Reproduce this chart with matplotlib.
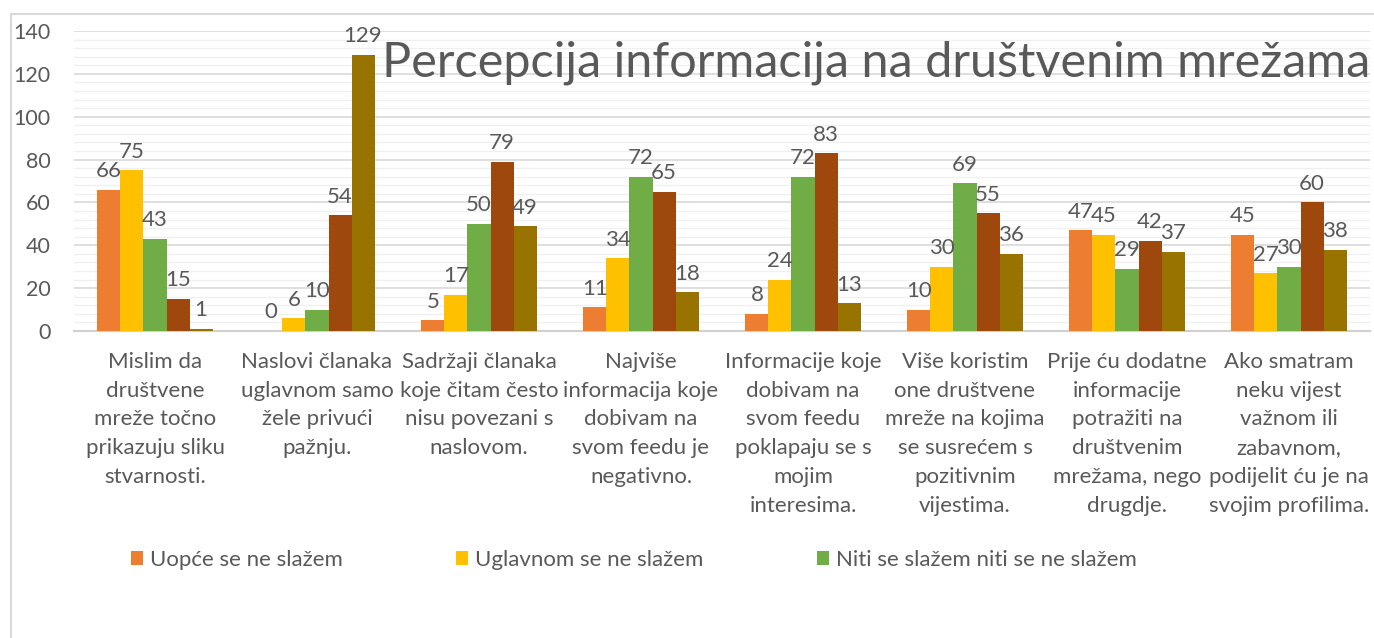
import matplotlib
matplotlib.use("Agg")
import matplotlib.pyplot as plt
from matplotlib.lines import Line2D
from matplotlib.patches import Patch
from matplotlib.ticker import MultipleLocator
import numpy as np

categories = [
    "Mislim da\ndruštvene\nmreže točno\nprikazuju sliku\nstvarnosti.",
    "Naslovi članaka\nuglavnom samo\nžele privući\npažnju.",
    "Sadržaji članaka\nkoje čitam često\nnisu povezani s\nnaslovom.",
    "Najviše\ninformacija koje\ndobivam na\nsvom feedu je\nnegativno.",
    "Informacije koje\ndobivam na\nsvom feedu\npoklapaju se s\nmojim\ninteresima.",
    "Više koristim\none društvene\nmreže na kojima\nse susrećem s\npozitivnim\nvijestima.",
    "Prije ću dodatne\ninformacije\npotražiti na\ndruštvenim\nmrežama, nego\ndrugdje.",
    "Ako smatram\nneku vijest\nvažnom ili\nzabavnom,\npodijelit ću je na\nsvojim profilima.",
]
series_names = [
    "Uopće se ne slažem",
    "Uglavnom se ne slažem",
    "Niti se slažem niti se ne slažem",
    "Uglavnom se slažem",
    "U potpunosti se slažem",
]
uopce_ne = [66, 0, 5, 11, 8, 10, 47, 45]
uglavnom_ne = [75, 6, 17, 34, 24, 30, 45, 27]
niti_niti = [43, 10, 50, 72, 72, 69, 29, 30]
uglavnom_da = [15, 54, 79, 65, 83, 55, 42, 60]
potpuno_da = [1, 129, 49, 18, 13, 36, 37, 38]
series_values = [uopce_ne, uglavnom_ne, niti_niti, uglavnom_da, potpuno_da]
colors = ["#ED7D31", "#FFC000", "#70AD47", "#9E480E", "#997300"]
title = "Percepcija informacija na društvenim mrežama"

W, H = 1374, 638
fig = plt.figure(figsize=(W / 100, H / 100), dpi=100)
plt.rcParams['font.family'] = ['Lato', 'DejaVu Sans']
txt = "#595959"

ax = fig.add_axes([74 / W, 1 - 331 / H, (1370 - 74) / W, (331 - 31) / H])
ax.set_xlim(-0.5, len(categories) - 0.5)
ax.set_ylim(0, 140)

x = np.arange(len(categories))
bw = 0.142
n = len(series_values)
for i, (vals, c) in enumerate(zip(series_values, colors)):
    pos = x + (i - (n - 1) / 2) * bw
    ax.bar(pos, vals, width=bw, color=c, zorder=3, linewidth=0)
    for p, v in zip(pos, vals):
        ax.annotate(str(v), (p, v), xytext=(0, 9), textcoords="offset points",
                    ha="center", va="baseline", fontsize=16, color=txt, zorder=4)

ax.yaxis.set_major_locator(MultipleLocator(20))
ax.yaxis.set_minor_locator(MultipleLocator(4))
ax.grid(axis="y", which="major", color="#D9D9D9", linewidth=1.2, zorder=0)
ax.grid(axis="y", which="minor", color="#F0F0F0", linewidth=1.0, zorder=0)
for s in ["left", "right", "top"]:
    ax.spines[s].set_visible(False)
ax.spines["bottom"].set_color("#D0D0D0")
ax.spines["bottom"].set_linewidth(1.5)
ax.tick_params(axis="y", which="both", length=0, pad=17, labelsize=15.5, labelcolor=txt)
ax.tick_params(axis="x", length=0, pad=15, labelsize=16, labelcolor=txt)
ax.set_xticks(x)
ax.set_xticklabels(categories, linespacing=1.55, va="top")

fig.text(1370 / W, 1 - 63 / H, title, ha="right", va="center",
         fontsize=35, color=txt, fontweight="normal")

handles = [Patch(facecolor=c, edgecolor="none") for c in colors[:3]]
fig.legend(handles, series_names[:3], loc="center left",
           bbox_to_anchor=(131 / W, 1 - 560 / H), bbox_transform=fig.transFigure,
           ncol=3, frameon=False, fontsize=16, labelcolor=txt,
           handlelength=0.55, handleheight=0.6, handletextpad=0.3,
           columnspacing=5.1, borderpad=0, borderaxespad=0)

fig.add_artist(Line2D([11 / W, 11 / W], [0, 1 - 14 / H], transform=fig.transFigure,
                      color="#D9D9D9", linewidth=1.5))
fig.add_artist(Line2D([11 / W, 1], [1 - 14 / H, 1 - 14 / H], transform=fig.transFigure,
                      color="#D9D9D9", linewidth=1.5))

fig.savefig("out.png", dpi=100)
